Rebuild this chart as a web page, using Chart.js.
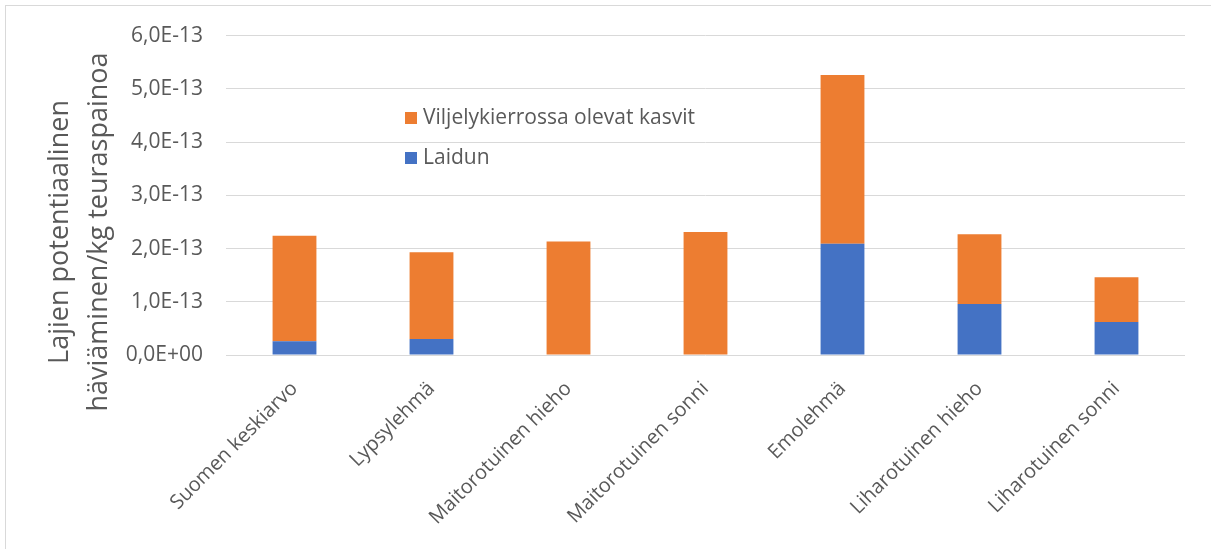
<!DOCTYPE html>
<html lang="fi">
<head>
    <meta charset="UTF-8">
    <title>Lajien potentiaalinen häviäminen</title>
    <style>
        body {
            margin: 0;
            background: #fff;
        }
        .wrap {
            position: relative;
            width: 1211px;
            height: 549px;
            overflow: hidden;
        }
        .frame {
            position: absolute;
            left: 5px;
            top: 5px;
            right: -2px;
            bottom: -2px;
            border-top: 1px solid #d9d9d9;
            border-left: 1px solid #d9d9d9;
        }
        canvas {
            position: absolute;
            left: 0;
            top: 0;
        }
    </style>
</head>
<body>
    <div class="wrap">
        <div class="frame"></div>
        <canvas id="lossChart" width="1211" height="549"></canvas>
    </div>
    <script src="https://cdn.jsdelivr.net/npm/chart.js"></script>
    <script>
        // Eläinryhmät
        const categories = ['Suomen keskiarvo', 'Lypsylehmä', 'Maitorotuinen hieho', 'Maitorotuinen sonni',
            'Emolehmä', 'Liharotuinen hieho', 'Liharotuinen sonni'];
        // Laidun (pinottu alimmaksi)
        const laidun = [0.26e-13, 0.30e-13, 0, 0, 2.09e-13, 0.96e-13, 0.62e-13];
        // Viljelykierrossa olevat kasvit
        const viljely = [1.98e-13, 1.63e-13, 2.13e-13, 2.31e-13, 3.17e-13, 1.31e-13, 0.84e-13];
        const yTicks = [0, 1e-13, 2e-13, 3e-13, 4e-13, 5e-13, 6e-13];
        const yTitle = ['Lajien potentiaalinen', 'häviäminen/kg teuraspainoa'];

        const textColor = '#595959';
        const gridColor = '#d9d9d9';
        const fontFamily = '"Open Sans", Arial, sans-serif';

        // Excel-tyylinen tieteellinen muoto: 6,0E-13
        function sci(v) {
            if (v === 0) return '0,0E+00';
            const e = Math.floor(Math.log10(Math.abs(v)) + 1e-9);
            const m = v / Math.pow(10, e);
            return m.toFixed(1).replace('.', ',') + 'E' + (e < 0 ? '-' : '+') + String(Math.abs(e)).padStart(2, '0');
        }

        // y-akselin otsikko ja selite piirretään itse
        const extras = {
            id: 'extras',
            afterDraw(chart) {
                const ctx = chart.ctx;
                ctx.save();
                ctx.fillStyle = textColor;
                ctx.font = '27px ' + fontFamily;
                ctx.textAlign = 'center';
                ctx.textBaseline = 'middle';
                const xs = [60, 99];
                yTitle.forEach((line, i) => {
                    ctx.save();
                    ctx.translate(xs[i], 232);
                    ctx.rotate(-Math.PI / 2);
                    ctx.fillText(line, 0, 0);
                    ctx.restore();
                });

                // selite, järjestys käänteinen pinoon nähden
                ctx.font = '21px ' + fontFamily;
                ctx.textAlign = 'left';
                const sets = chart.data.datasets.slice().reverse();
                sets.forEach((ds, i) => {
                    const y = 118 + i * 40;
                    ctx.fillStyle = ds.backgroundColor;
                    ctx.fillRect(405, y - 6, 12, 12);
                    ctx.fillStyle = textColor;
                    ctx.fillText(ds.label, 423, y);
                });
                ctx.restore();
            }
        };

        new Chart(document.getElementById('lossChart'), {
            type: 'bar',
            data: {
                labels: categories,
                datasets: [
                    { label: 'Laidun', data: laidun, backgroundColor: '#4472c4' },
                    { label: 'Viljelykierrossa olevat kasvit', data: viljely, backgroundColor: '#ed7d31' }
                ]
            },
            options: {
                responsive: false,
                animation: false,
                devicePixelRatio: 1,
                layout: { padding: { top: 35, right: 26, left: 0, bottom: 0 } },
                datasets: { bar: { barPercentage: 0.32, categoryPercentage: 1 } },
                plugins: {
                    legend: { display: false },
                    tooltip: { enabled: false }
                },
                scales: {
                    x: {
                        stacked: true,
                        grid: { display: false },
                        border: { display: false },
                        ticks: {
                            color: textColor,
                            font: { family: fontFamily, size: 20 },
                            minRotation: 45,
                            maxRotation: 45,
                            padding: 14,
                            autoSkip: false
                        },
                        afterFit(scale) { scale.height = 194; }
                    },
                    y: {
                        stacked: true,
                        min: 0,
                        max: 6e-13,
                        border: { display: false },
                        grid: { color: gridColor, lineWidth: 1, drawTicks: false },
                        ticks: {
                            color: textColor,
                            font: { family: fontFamily, size: 21 },
                            padding: 23,
                            callback: v => sci(v)
                        },
                        afterBuildTicks(scale) { scale.ticks = yTicks.map(v => ({ value: v })); },
                        afterFit(scale) { scale.width = 226; }
                    }
                }
            },
            plugins: [extras]
        });
    </script>
</body>
</html>
